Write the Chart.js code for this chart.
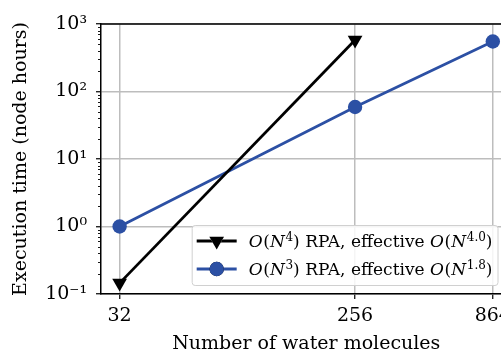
<!DOCTYPE html>
<html><head><meta charset="utf-8">
<script src="https://cdn.jsdelivr.net/npm/chart.js@4"></script>
<style>html,body{margin:0;padding:0;overflow:hidden;background:#fff}
#wrap{width:520px;height:354px}</style></head>
<body><div id="wrap"><canvas id="c" width="520" height="354"></canvas></div>
<script>
// ---- data ----
const moleculeCounts = [32, 256, 864];
const rpaN4Times = [0.145, 580];
const rpaN3Times = [1.0, 59, 550];
const seriesLabels = ['O(N^4) RPA, effective O(N^4.0)', 'O(N^3) RPA, effective O(N^1.8)'];
const xTickValues = [32, 256, 864];
const yTickLabels = {'0.1': '10⁻¹', '1': '10⁰', '10': '10¹', '100': '10²', '1000': '10³'};
const xTitle = 'Number of water molecules';
const yTitle = 'Execution time (node hours)';

const FONT = '"DejaVu Serif", "Liberation Serif", serif';
const FS = 19;
const BLUE = '#2c50a4';
const GRID = '#bdbdbd';

function isMajor(v){ const l = Math.log10(v); return Math.abs(l - Math.round(l)) < 1e-9; }

const n4Points = rpaN4Times.map((y, i) => ({x: moleculeCounts[i], y}));
const n3Points = rpaN3Times.map((y, i) => ({x: moleculeCounts[i], y}));

// draw a label like "O(N^4) RPA" with italic O/N and superscripts
function drawMathText(ctx, str, x, y, size, measureOnly){
  const segs = [];
  let i = 0;
  while (i < str.length){
    const ch = str[i];
    if (ch === '^'){
      let j = i + 1, s = '';
      while (j < str.length && str[j] !== ')') { s += str[j]; j++; }
      segs.push({t: s, k: 'sup'}); i = j;
    } else if (ch === 'O' || ch === 'N'){
      segs.push({t: ch, k: 'it'}); i++;
    } else {
      let s = '';
      while (i < str.length && str[i] !== '^' && str[i] !== 'O' && str[i] !== 'N'){ s += str[i]; i++; }
      segs.push({t: s, k: 'rm'});
    }
  }
  let cx = x;
  ctx.textBaseline = 'alphabetic';
  ctx.textAlign = 'left';
  for (const s of segs){
    let f, dy = 0;
    if (s.k === 'it') f = `italic ${size}px ${FONT}`;
    else if (s.k === 'sup'){ f = `${Math.round(size*0.7)}px ${FONT}`; dy = -size*0.38; }
    else f = `${size}px ${FONT}`;
    ctx.font = f;
    if (!measureOnly) ctx.fillText(s.t, cx, y + dy);
    cx += ctx.measureText(s.t).width + (s.k === 'it' ? size*0.04 : 0);
  }
  return cx - x;
}

const framePlugin = {
  id: 'frame',
  afterDatasetsDraw(chart){
    const {ctx, chartArea: a, scales} = chart;
    ctx.save();
    // minor ticks on y
    ctx.strokeStyle = '#000'; ctx.lineWidth = 0.9;
    scales.y.ticks.forEach(t => {
      if (!isMajor(t.value)){
        const py = Math.round(scales.y.getPixelForValue(t.value)) + 0.5;
        ctx.beginPath(); ctx.moveTo(a.left - 3, py); ctx.lineTo(a.left, py); ctx.stroke();
      }
    });
    // top/right spines
    ctx.lineWidth = 1.5;
    ctx.beginPath();
    ctx.moveTo(a.left, a.top); ctx.lineTo(a.right, a.top); ctx.lineTo(a.right, a.bottom);
    ctx.stroke();
    ctx.restore();
  },
  afterDraw(chart){
    const {ctx, chartArea: a} = chart;
    const ds = chart.data.datasets;
    ctx.save();
    const lfs = 17;
    let tw = 0;
    ds.forEach(d => { tw = Math.max(tw, drawMathText(ctx, d.label, 0, 0, lfs, true)); });
    const pad = 5, handle = 40, gap = 12, rowH = 28;
    const right = a.right - 14, bottom = a.bottom - 9;
    const w = pad + handle + gap + tw + pad;
    const h = rowH * ds.length + 4;
    const left = right - w, top = bottom - h;
    ctx.beginPath();
    ctx.roundRect(left + 0.5, top + 0.5, w, h, 3);
    ctx.fillStyle = 'rgba(255,255,255,0.85)';
    ctx.fill();
    ctx.strokeStyle = '#d0d0d0'; ctx.lineWidth = 1;
    ctx.stroke();
    ds.forEach((d, i) => {
      const cy = top + 2 + rowH * i + rowH / 2;
      const x0 = left + pad, x1 = x0 + handle;
      ctx.strokeStyle = d.borderColor; ctx.lineWidth = d.borderWidth;
      ctx.beginPath(); ctx.moveTo(x0, cy); ctx.lineTo(x1, cy); ctx.stroke();
      Chart.helpers.drawPoint(ctx, {pointStyle: d.pointStyle, rotation: d.pointRotation || 0, radius: d.pointRadius, borderWidth: 0}, (x0 + x1) / 2, cy);
      ctx.fillStyle = d.pointBackgroundColor;
      ctx.fill();
      ctx.fillStyle = '#000';
      drawMathText(ctx, d.label, x1 + gap, cy + 6, lfs, false);
    });
    ctx.restore();
  }
};

new Chart(document.getElementById('c'), {
  type: 'line',
  data: {
    datasets: [
      {label: seriesLabels[0], data: n4Points, borderColor: '#000', backgroundColor: '#000',
       pointBackgroundColor: '#000', pointBorderColor: '#000', borderWidth: 2.8,
       pointStyle: 'triangle', pointRotation: 180, pointRadius: 8.5, pointBorderWidth: 0, pointHoverRadius: 8.5},
      {label: seriesLabels[1], data: n3Points, borderColor: BLUE, backgroundColor: BLUE,
       pointBackgroundColor: BLUE, pointBorderColor: BLUE, borderWidth: 2.8,
       pointStyle: 'circle', pointRadius: 7.2, pointBorderWidth: 0, pointHoverRadius: 7.2}
    ]
  },
  options: {
    responsive: false, animation: false,
    layout: {padding: {top: 24, right: 8, left: 0, bottom: 0}},
    plugins: {legend: {display: false}, tooltip: {enabled: false}},
    scales: {
      x: {
        type: 'logarithmic', min: 27.15, max: 1019,
        afterBuildTicks: s => { s.ticks = xTickValues.map(v => ({value: v})); },
        afterFit: s => { s.height = 60; },
        ticks: {autoSkip: false, maxRotation: 0, color: '#000', padding: 6,
          font: {family: FONT, size: FS}, callback: v => String(v)},
        grid: {color: GRID, lineWidth: 1.5, tickColor: '#000', tickLength: 5, tickWidth: 1.2},
        border: {display: true, color: '#000', width: 1.5},
        title: {display: true, text: xTitle, color: '#000', font: {family: FONT, size: FS, lineHeight: 1},
          padding: {top: 0, bottom: 0}}
      },
      y: {
        type: 'logarithmic', min: 0.1, max: 1000,
        afterBuildTicks: s => {
          const t = [];
          for (let e = -1; e <= 2; e++) for (let m = 1; m <= 9; m++) t.push({value: +(m * Math.pow(10, e)).toPrecision(6)});
          t.push({value: 1000});
          s.ticks = t;
        },
        afterFit: s => { s.width = 101; },
        ticks: {autoSkip: false, color: '#000', padding: 9, font: {family: FONT, size: FS},
          callback: v => { const k = String(+(+v).toPrecision(6)); return isMajor(v) ? (yTickLabels[k] || '') : ''; }},
        grid: {
          color: c => (c.tick && isMajor(c.tick.value)) ? GRID : 'rgba(0,0,0,0)',
          tickColor: c => (c.tick && isMajor(c.tick.value)) ? '#000' : 'rgba(0,0,0,0)',
          lineWidth: 1.5, tickLength: 5, tickWidth: 1.2
        },
        border: {display: true, color: '#000', width: 1.5},
        title: {display: true, text: yTitle, color: '#000', font: {family: FONT, size: FS, lineHeight: 1},
          padding: {top: 12, bottom: 0}}
      }
    }
  },
  plugins: [framePlugin]
});
</script></body></html>
